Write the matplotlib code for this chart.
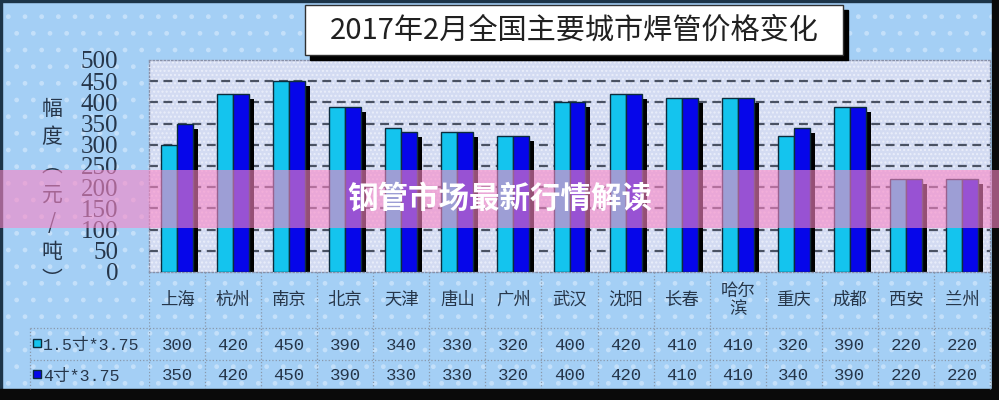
import matplotlib
matplotlib.use('Agg')
import matplotlib.pyplot as plt
from matplotlib.patches import Rectangle
from matplotlib.transforms import ScaledTranslation
import numpy as np

# data
cities = ['上海', '杭州', '南京', '北京', '天津', '唐山', '广州', '武汉',
          '沈阳', '长春', '哈尔\n滨', '重庆', '成都', '西安', '兰州']
s1 = [300, 420, 450, 390, 340, 330, 320, 400, 420, 410, 410, 320, 390, 220, 220]
s2 = [350, 420, 450, 390, 330, 330, 320, 400, 420, 410, 410, 340, 390, 220, 220]
s1_name = '1.5寸*3.75'
s2_name = '4寸*3.75'
title = '2017年2月全国主要城市焊管价格变化'
ylabel_chars = ['幅', '度', '︵', '元', '/', '吨', '︶']
banner = '钢管市场最新行情解读'
yticks = list(range(0, 501, 50))

W, H = 999, 400
OUTER = '#a4cff5'
PLOT_BG = '#d3dbf2'
CYAN = '#14c4ee'
BLUE = '#0606ea'
TXT = '#26364a'
EDGE = '#0c2c3c'

plt.rcParams['font.family'] = ['Noto Sans CJK SC', 'DejaVu Sans']
plt.rcParams['hatch.linewidth'] = 1.0

fig = plt.figure(figsize=(W / 100, H / 100), dpi=100)
fig.patch.set_facecolor(OUTER)


def px(x0, y0, x1, y1):
    # pixel box (from top-left) -> figure fraction rect
    return [x0 / W, 1 - y1 / H, (x1 - x0) / W, (y1 - y0) / H]


# background layer in pixel coordinates
bg = fig.add_axes([0, 0, 1, 1], zorder=0)
bg.set_xlim(0, W)
bg.set_ylim(H, 0)
bg.axis('off')
bg.add_patch(Rectangle((0, 0), W, H, facecolor='none', hatch='.',
                       edgecolor='#c4e0fa', lw=0))
bg.add_patch(Rectangle((0, 0), W, 2, color='#1c3448'))
bg.add_patch(Rectangle((0, 0), 2, H, color='#1c3448'))
bg.add_patch(Rectangle((992, 0), 7, H, color='#0a0a0a'))
bg.add_patch(Rectangle((0, 389), W, 11, color='#0a0a0a'))

# y label, stacked vertically
for ch, yy in zip(ylabel_chars, np.linspace(109, 280, len(ylabel_chars))):
    bg.text(52, yy, ch, fontsize=15, color=TXT, ha='center', va='center')

# table frame lines + legend column
for yy in (328, 360):
    bg.plot([30, 990], [yy, yy], color='#8a98aa', lw=0.9, ls=':')
bg.plot([30, 30], [328, 389], color='#8a98aa', lw=0.9, ls=':')
bg.plot([990, 990], [272, 389], color='#8a98aa', lw=0.9, ls=':')
bg.add_patch(Rectangle((33, 339), 8, 8, facecolor=CYAN, edgecolor=EDGE, lw=1))
bg.add_patch(Rectangle((33, 370), 8, 8, facecolor=BLUE, edgecolor=EDGE, lw=1))
mono = ['Liberation Mono', 'Noto Sans CJK SC']
bg.text(43, 345, s1_name, fontsize=12, color=TXT, ha='left', va='center', family=mono)
bg.text(43, 376, s2_name, fontsize=12, color=TXT, ha='left', va='center', family=mono)

# main bar plot
ax = fig.add_axes(px(149, 60, 990, 272), zorder=1)
ax.set_facecolor(PLOT_BG)
ax.add_patch(Rectangle((0, 0), 1, 1, transform=ax.transAxes, facecolor='none',
                       hatch='....', edgecolor='#eaeefa', lw=0, zorder=0.5))
x = np.arange(len(cities))
bw = 0.285
shadow = ax.transData + ScaledTranslation(5 / 100, -5 / 100, fig.dpi_scale_trans)
ax.bar(x - bw / 2, s1, bw, color='black', transform=shadow, zorder=2)
ax.bar(x + bw / 2, s2, bw, color='black', transform=shadow, zorder=2)
ax.bar(x - bw / 2, s1, bw, color=CYAN, edgecolor=EDGE, lw=1, zorder=3)
ax.bar(x + bw / 2, s2, bw, color=BLUE, edgecolor=EDGE, lw=1, zorder=3)
ax.hlines(yticks[1:-1], -0.5, len(cities) - 0.5, color='#4a5263',
          linestyles=(0, (4, 2.5)), lw=1.6, zorder=1)
ax.set_xlim(-0.5, len(cities) - 0.5)
ax.set_ylim(0, 500)
ax.set_xticks([])
ax.set_yticks(yticks)
ax.tick_params(axis='y', length=0, pad=22, labelsize=18, labelcolor=TXT,
               labelfontfamily='Liberation Serif')
for s in ax.spines.values():
    s.set_color('#8890a8')
    s.set_linestyle(':')
    s.set_linewidth(1)

# data table under the plot
tax = fig.add_axes(px(149, 272, 990, 389), zorder=1)
tax.set_xlim(-0.5, len(cities) - 0.5)
tax.set_ylim(389, 272)
tax.axis('off')
tax.vlines(np.arange(-0.5, len(cities)), 272, 389, color='#8a98aa', lw=0.9,
           linestyles=':')
for i, c in enumerate(cities):
    tax.text(i, 300, c, fontsize=12.5, color=TXT, ha='center', va='center',
             linespacing=1.0)
    tax.text(i, 345, str(s1[i]), fontsize=12.5, color=TXT, ha='center',
             va='center', family=mono)
    tax.text(i, 376, str(s2[i]), fontsize=12.5, color=TXT, ha='center',
             va='center', family=mono)

# title box and banner on top
top = fig.add_axes([0, 0, 1, 1], zorder=3)
top.set_xlim(0, W)
top.set_ylim(H, 0)
top.axis('off')
top.patch.set_alpha(0)
top.add_patch(Rectangle((310, 10), 538, 50, color='black'))
top.add_patch(Rectangle((305, 5), 538, 50, facecolor='white',
                        edgecolor='#303030', lw=1))
top.text(574, 31, title, fontsize=21, color='#202020', ha='center', va='center')
top.add_patch(Rectangle((0, 170), W, 58, color=(250 / 255, 133 / 255, 197 / 255),
                        alpha=0.6, lw=0))
top.text(500, 199, banner, fontsize=22, color='white', weight='heavy',
         ha='center', va='center')

fig.savefig('out.png', dpi=100, facecolor=fig.get_facecolor())
